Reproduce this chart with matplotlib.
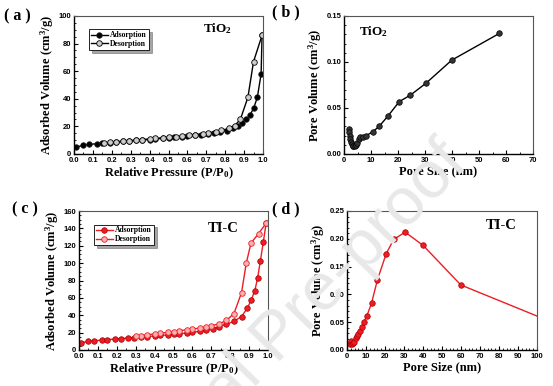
import numpy as np
import matplotlib.pyplot as plt
from matplotlib.ticker import MultipleLocator, AutoMinorLocator

# (a) TiO2 isotherm
tio2_ads_p = [0.01, 0.05, 0.08, 0.12, 0.15, 0.19, 0.22, 0.26, 0.29, 0.33, 0.36, 0.40,
              0.43, 0.47, 0.50, 0.53, 0.57, 0.60, 0.64, 0.67, 0.71, 0.74, 0.77, 0.81,
              0.84, 0.87, 0.89, 0.91, 0.93, 0.95, 0.97, 0.99]
tio2_ads_v = [5.0, 6.3, 7.0, 7.4, 7.9, 8.3, 8.7, 9.1, 9.4, 9.8, 10.1, 10.5,
              10.9, 11.3, 11.7, 12.1, 12.5, 13.0, 13.5, 14.0, 14.7, 15.4, 16.2, 17.0,
              18.5, 20.0, 22.5, 25.0, 28.0, 33.0, 41.0, 58.0]
tio2_ads_p = tio2_ads_p + [0.995]
tio2_ads_v = tio2_ads_v + [86.0]
tio2_des_p = [0.995, 0.95, 0.92, 0.88, 0.85, 0.82, 0.78, 0.75, 0.71, 0.68, 0.64, 0.61,
              0.57, 0.54, 0.50, 0.47, 0.43, 0.40, 0.36, 0.33, 0.29, 0.26, 0.22, 0.19, 0.16]
tio2_des_v = [86.0, 67.0, 41.0, 25.0, 20.5, 18.5, 17.2, 16.2, 15.3, 14.6, 14.0, 13.5,
              13.0, 12.6, 12.2, 11.8, 11.3, 10.9, 10.5, 10.1, 9.7, 9.3, 8.9, 8.5, 8.1]

# (b) TiO2 pore size distribution
tio2_d = [1.7, 1.9, 2.1, 2.3, 2.6, 2.9, 3.2, 3.5, 3.9, 4.3, 4.8, 5.4, 6.1, 7.0, 8.2,
          10.6, 13.0, 16.2, 20.5, 24.6, 30.4, 39.9, 57.5]
tio2_pv = [0.027, 0.024, 0.020, 0.016, 0.013, 0.011, 0.009, 0.0085, 0.009, 0.010,
           0.012, 0.016, 0.018, 0.019, 0.020, 0.024, 0.030, 0.041, 0.057, 0.064,
           0.077, 0.102, 0.131]

# (c) TI-C isotherm
tic_ads_p = [0.01, 0.05, 0.08, 0.12, 0.15, 0.19, 0.22, 0.26, 0.29, 0.33, 0.36, 0.40,
             0.43, 0.47, 0.50, 0.53, 0.57, 0.60, 0.64, 0.67, 0.71, 0.74, 0.78, 0.82,
             0.86, 0.89, 0.91, 0.93, 0.945, 0.96, 0.975, 0.99]
tic_ads_v = [8.0, 10.0, 10.7, 11.3, 12.0, 12.6, 13.2, 13.8, 14.3, 14.9, 15.5, 16.1,
             16.8, 17.4, 18.1, 18.8, 19.6, 20.4, 21.4, 22.6, 24.2, 26.5, 29.5, 33.0,
             38.5, 48.0, 57.0, 68.0, 83.0, 103.0, 124.0, 146.0]
tic_des_p = [0.99, 0.95, 0.91, 0.885, 0.86, 0.82, 0.78, 0.74, 0.70, 0.67, 0.64, 0.60,
             0.57, 0.53, 0.50, 0.47, 0.43, 0.40, 0.36, 0.33, 0.30]
tic_des_v = [146.0, 134.0, 123.0, 100.0, 66.0, 42.0, 34.0, 30.0, 28.0, 26.5, 25.3, 24.2,
             23.2, 22.2, 21.2, 20.3, 19.3, 18.4, 17.5, 16.6, 15.8]

# (d) TI-C pore size distribution
tic_d = [1.6, 2.1, 2.6, 3.2, 3.9, 4.6, 5.3, 6.0, 6.7, 7.7, 8.8, 10.4, 12.9, 16.0,
         20.6, 24.6, 30.6, 40.1, 59.9, 104.0]
tic_pv = [0.011, 0.017, 0.010, 0.012, 0.015, 0.021, 0.025, 0.029, 0.034, 0.042,
          0.050, 0.061, 0.084, 0.126, 0.173, 0.199, 0.212, 0.188, 0.117, 0.0555]

RED = "#ee1c25"
serif = "Liberation Serif"
sans = "Liberation Sans"

fig = plt.figure(figsize=(5.53, 3.86), dpi=100)
W, H = 553, 386


def add_ax(x0, y0, x1, y1):
    return fig.add_axes([x0 / W, 1 - y1 / H, (x1 - x0) / W, (y1 - y0) / H])


def style(ax):
    ax.patch.set_alpha(0)
    for s in ["left", "bottom"]:
        ax.spines[s].set_linewidth(1.0)
    for s in ["top", "right"]:
        ax.spines[s].set_linewidth(0.8)
        ax.spines[s].set_color("#555555")
    ax.tick_params(direction="in", which="both", top=False, right=False,
                   labelsize=5.5, pad=2)
    ax.tick_params(which="major", length=3, width=0.8)
    ax.tick_params(which="minor", length=1.5, width=0.6)
    for lab in ax.get_xticklabels() + ax.get_yticklabels():
        lab.set_fontfamily(sans)
        lab.set_fontweight("bold")


def isotherm(ax, ads_p, ads_v, des_p, des_v, color, face_des):
    ax.plot(ads_p, ads_v, "-o", color=color, lw=1.0, ms=4,
            mfc=color, mec="#222222" if color == "black" else "#a00000", mew=0.5,
            label="Adsorption")
    ax.plot(des_p, des_v, "-o", color=color, lw=1.0, ms=4,
            mfc=face_des, mec=color, mew=0.6, label="Desorption")
    ax.set_xlim(0, 1.0)
    ax.xaxis.set_major_locator(MultipleLocator(0.1))
    ax.xaxis.set_minor_locator(AutoMinorLocator(2))
    ax.yaxis.set_minor_locator(AutoMinorLocator(4))
    ax.set_xlabel("Relative Pressure (P/P$_0$)", fontfamily=serif,
                  fontweight="bold", fontsize=9, labelpad=1)
    ax.set_ylabel("Adsorbed Volume (cm$^3$/g)", fontfamily=serif,
                  fontweight="bold", fontsize=9, labelpad=2)
    leg = ax.legend(loc="upper left", bbox_to_anchor=(0.06, 0.93),
                    frameon=True, fancybox=False, shadow=True, handlelength=2.2,
                    borderpad=0.25, labelspacing=0.1, handletextpad=0.3,
                    prop={"family": serif, "weight": "bold", "size": 5.5})
    leg.get_frame().set_edgecolor("black")
    leg.get_frame().set_linewidth(0.6)


plt.rcParams.update({"mathtext.fontset": "custom", "mathtext.rm": serif,
                     "mathtext.it": serif, "mathtext.bf": serif + ":bold",
                     "mathtext.default": "bf"})

# watermark (drawn first, behind the panels)
fig.text(470 / W, 1 - 165 / H, "Journal Pre-proof", fontfamily=sans,
         fontsize=48, color="#e8e8e8", rotation=46, rotation_mode="anchor",
         ha="right", va="baseline", zorder=0)

# (a)
ax = add_ax(74, 16, 263, 154)
isotherm(ax, tio2_ads_p, tio2_ads_v, tio2_des_p, tio2_des_v, "black", "#cccccc")
ax.set_ylim(0, 100)
ax.yaxis.set_major_locator(MultipleLocator(20))
ax.text(0.68, 0.88, "TiO$_2$", transform=ax.transAxes, fontfamily=serif,
        fontweight="bold", fontsize=9.5)
style(ax)
fig.text(4 / W, 1 - 16 / H, "( a )", fontfamily=serif, fontweight="bold",
         fontsize=11.5, va="center")

# (b)
ax = add_ax(344, 16, 533, 154)
ax.plot(tio2_d, tio2_pv, "-o", color="black", lw=1.0, ms=4, mfc="#333333",
        mec="black", mew=0.5)
ax.set_xlim(0, 70)
ax.set_ylim(0, 0.15)
ax.xaxis.set_major_locator(MultipleLocator(10))
ax.xaxis.set_minor_locator(AutoMinorLocator(2))
ax.yaxis.set_major_locator(MultipleLocator(0.05))
ax.yaxis.set_minor_locator(AutoMinorLocator(5))
ax.yaxis.set_major_formatter(plt.FormatStrFormatter("%.2f"))
ax.set_xlabel("Pore Size (nm)", fontfamily=serif, fontweight="bold", fontsize=9,
              labelpad=1)
ax.set_ylabel("Pore Volume (cm$^3$/g)", fontfamily=serif, fontweight="bold",
              fontsize=9, labelpad=2)
ax.text(0.08, 0.86, "TiO$_2$", transform=ax.transAxes, fontfamily=serif,
        fontweight="bold", fontsize=9.5)
style(ax)
fig.text(272 / W, 1 - 12 / H, "( b )", fontfamily=serif, fontweight="bold",
         fontsize=11.5, va="center")

# (c)
ax = add_ax(79, 211, 268, 350)
isotherm(ax, tic_ads_p, tic_ads_v, tic_des_p, tic_des_v, RED, "#f6b0b0")
ax.set_ylim(0, 160)
ax.yaxis.set_major_locator(MultipleLocator(20))
ax.text(0.68, 0.85, "TI-C", transform=ax.transAxes, fontfamily=serif,
        fontweight="bold", fontsize=10.5)
style(ax)
fig.text(12 / W, 1 - 209 / H, "( c )", fontfamily=serif, fontweight="bold",
         fontsize=11.5, va="center")

# (d)
ax = add_ax(347, 211, 537, 350)
ax.plot(tic_d, tic_pv, "-o", color=RED, lw=1.0, ms=4, mfc=RED, mec="#b00000",
        mew=0.5, clip_on=True)
ax.set_xlim(0, 100)
ax.set_ylim(0, 0.25)
ax.xaxis.set_major_locator(MultipleLocator(10))
ax.xaxis.set_minor_locator(AutoMinorLocator(5))
ax.yaxis.set_major_locator(MultipleLocator(0.05))
ax.yaxis.set_minor_locator(AutoMinorLocator(5))
ax.yaxis.set_major_formatter(plt.FormatStrFormatter("%.2f"))
ax.set_xlabel("Pore Size (nm)", fontfamily=serif, fontweight="bold", fontsize=9,
              labelpad=1)
ax.set_ylabel("Pore Volume (cm$^3$/g)", fontfamily=serif, fontweight="bold",
              fontsize=9, labelpad=2)
ax.text(0.73, 0.87, "TI-C", transform=ax.transAxes, fontfamily=serif,
        fontweight="bold", fontsize=10.5)
style(ax)
fig.text(272 / W, 1 - 209 / H, "( d )", fontfamily=serif, fontweight="bold",
         fontsize=11.5, va="center")

fig.savefig("out.png", dpi=100)
